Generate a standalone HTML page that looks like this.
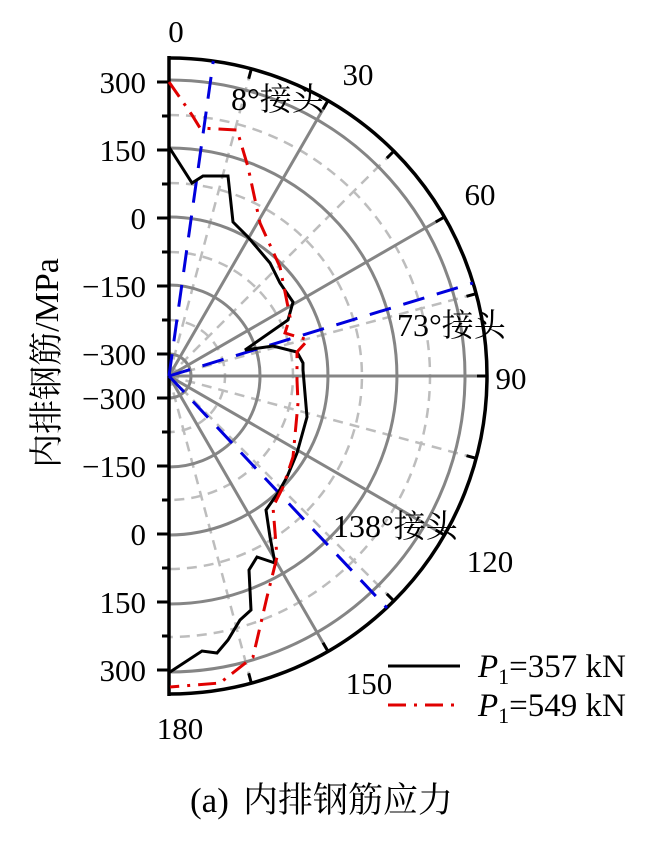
<!DOCTYPE html>
<html><head><meta charset="utf-8"><style>
html,body{margin:0;padding:0;background:#fff;}
svg{display:block;}
text{font-family:"Liberation Serif","Noto Serif CJK SC","Noto Sans CJK SC",serif;fill:#000;}
</style></head><body>
<svg width="662" height="854" viewBox="0 0 662 854" xmlns="http://www.w3.org/2000/svg">
<g fill="none">
<g stroke="#bdbdbd" stroke-width="2.5" stroke-dasharray="10,7">
<path d="M169,320 A56,56 0 0 1 169,432"/>
<path d="M169,252 A124,124 0 0 1 169,500"/>
<path d="M169,183 A193,193 0 0 1 169,569"/>
<path d="M169,115 A261,261 0 0 1 169,637"/>
<line x1="169" y1="376" x2="251.3" y2="69"/>
<line x1="169" y1="376" x2="393.9" y2="151.1"/>
<line x1="169" y1="376" x2="476.2" y2="293.7"/>
<line x1="169" y1="376" x2="476.2" y2="458.3"/>
<line x1="169" y1="376" x2="393.9" y2="600.9"/>
<line x1="169" y1="376" x2="251.3" y2="683"/>
</g>
<g stroke="#858585" stroke-width="3">
<path d="M169,354 A22,22 0 0 1 169,398"/>
<path d="M169,285 A91,91 0 0 1 169,467"/>
<path d="M169,217 A159,159 0 0 1 169,535"/>
<path d="M169,148 A228,228 0 0 1 169,604"/>
<path d="M169,80 A296,296 0 0 1 169,672"/>
<line x1="169" y1="376" x2="328" y2="100.6"/>
<line x1="169" y1="376" x2="444.4" y2="217"/>
<line x1="169" y1="376" x2="487" y2="376"/>
<line x1="169" y1="376" x2="444.4" y2="535"/>
<line x1="169" y1="376" x2="328" y2="651.4"/>
</g>
<path d="M169,58 A318,318 0 0 1 169,694" stroke="#000" stroke-width="3.5"/>
<line x1="169" y1="56" x2="169" y2="696" stroke="#000" stroke-width="3.5"/>
<g stroke="#000" stroke-width="3">
<line x1="251.3" y1="69" x2="248.7" y2="78.7"/>
<line x1="328" y1="100.6" x2="323" y2="109.3"/>
<line x1="393.9" y1="151.1" x2="386.8" y2="158.2"/>
<line x1="444.4" y1="217" x2="435.7" y2="222"/>
<line x1="476.2" y1="293.7" x2="466.5" y2="296.3"/>
<line x1="487" y1="376" x2="477" y2="376"/>
<line x1="476.2" y1="458.3" x2="466.5" y2="455.7"/>
<line x1="444.4" y1="535" x2="435.7" y2="530"/>
<line x1="393.9" y1="600.9" x2="386.8" y2="593.8"/>
<line x1="328" y1="651.4" x2="323" y2="642.7"/>
<line x1="251.3" y1="683" x2="248.7" y2="673.3"/>
</g>
<g stroke="#000" stroke-width="3">
<line x1="157" y1="82" x2="169" y2="82"/><line x1="157" y1="150" x2="169" y2="150"/>
<line x1="157" y1="218" x2="169" y2="218"/><line x1="157" y1="286" x2="169" y2="286"/>
<line x1="157" y1="354" x2="169" y2="354"/><line x1="157" y1="398" x2="169" y2="398"/>
<line x1="157" y1="466" x2="169" y2="466"/><line x1="157" y1="534" x2="169" y2="534"/>
<line x1="157" y1="602" x2="169" y2="602"/><line x1="157" y1="670" x2="169" y2="670"/>
<line x1="162" y1="116" x2="169" y2="116"/><line x1="162" y1="184" x2="169" y2="184"/>
<line x1="162" y1="252" x2="169" y2="252"/><line x1="162" y1="320" x2="169" y2="320"/>
<line x1="162" y1="432" x2="169" y2="432"/><line x1="162" y1="500" x2="169" y2="500"/>
<line x1="162" y1="568" x2="169" y2="568"/><line x1="162" y1="636" x2="169" y2="636"/>
</g>
<g stroke="#0000dd" stroke-width="3" stroke-dasharray="22,13">
<line x1="169" y1="376" x2="213.3" y2="61"/>
<line x1="169" y1="376" x2="473" y2="283"/>
<line x1="169" y1="376" x2="387" y2="608"/>
</g>
<polyline stroke="#000" stroke-width="3" points="169,147 192,183 203,176 228,176 233,222 248,237 270,263 280,283 293,302 288,320 245,350 273,346 297,352 303,363 303,370 307,417 297,453 287,477 278,493 266,510 270,537 275,563 257,557 249,570 251,610 240,620 228,640 217,653 202,651 170,672"/>
<polyline stroke="#e00000" stroke-width="3" stroke-dasharray="18,8,3,8" points="169,82 192,115 200,128 237,130 248,167 260,223 280,267 290,317 285,333 308,340 297,352 297,380 298,403 293,457 283,487 273,507 277,557 267,597 253,657 220,683 170,687"/>
<line x1="388" y1="666" x2="460" y2="666" stroke="#000" stroke-width="3"/>
<line x1="388" y1="705" x2="460" y2="705" stroke="#e00000" stroke-width="3" stroke-dasharray="18,8,3,8"/>
</g>
<g font-size="31">
<text x="176" y="42" text-anchor="middle">0</text>
<text x="358" y="85" text-anchor="middle">30</text>
<text x="480" y="205" text-anchor="middle">60</text>
<text x="511" y="389" text-anchor="middle">90</text>
<text x="490" y="572" text-anchor="middle">120</text>
<text x="369" y="694" text-anchor="middle">150</text>
<text x="180" y="739" text-anchor="middle">180</text>
<text x="231" y="110" font-size="32">8°接头</text>
<text x="397" y="336" font-size="32">73°接头</text>
<text x="333" y="537" font-size="32">138°接头</text>
<g text-anchor="end">
<text x="146" y="93">300</text><text x="146" y="161">150</text><text x="146" y="229">0</text>
<text x="146" y="297">−150</text><text x="146" y="365">−300</text><text x="146" y="409">−300</text>
<text x="146" y="477">−150</text><text x="146" y="545">0</text><text x="146" y="613">150</text>
<text x="146" y="681">300</text>
</g>
<text transform="translate(58,363) rotate(-90)" text-anchor="middle" font-size="34">内排钢筋/MPa</text>
<text x="478" y="677" font-size="33"><tspan font-style="italic">P</tspan><tspan font-size="22" dy="7">1</tspan><tspan dy="-7">=357 kN</tspan></text>
<text x="478" y="716" font-size="33"><tspan font-style="italic">P</tspan><tspan font-size="22" dy="7">1</tspan><tspan dy="-7">=549 kN</tspan></text>
<text x="190" y="812" font-size="35">(a)</text>
<text x="243" y="812" font-size="35">内排钢筋应力</text>
</g>
</svg>
</body></html>
